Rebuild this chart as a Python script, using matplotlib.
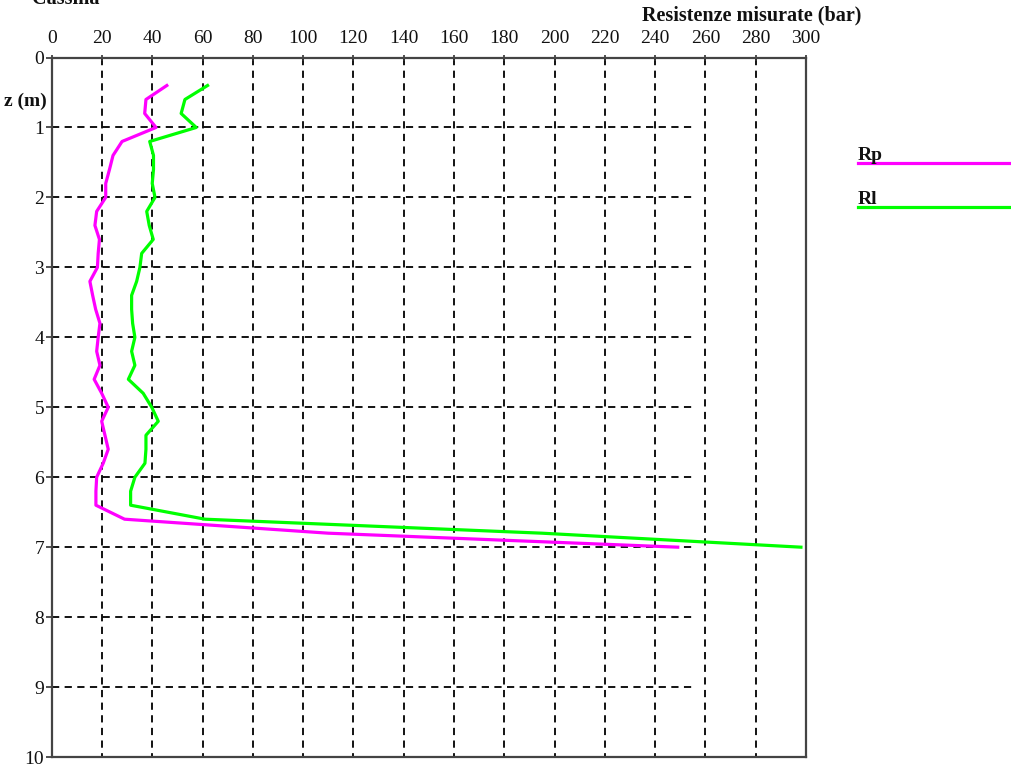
import matplotlib.pyplot as plt
from matplotlib.lines import Line2D

# depth (m) and measured resistances (bar)
depth = [0.4, 0.6, 0.8, 1.0, 1.2, 1.4, 1.6, 1.8, 2.0, 2.2, 2.4, 2.6, 2.8, 3.0,
         3.2, 3.4, 3.6, 3.8, 4.0, 4.2, 4.4, 4.6, 4.8, 5.0, 5.2, 5.4, 5.6, 5.8,
         6.0, 6.2, 6.4, 6.6, 6.8, 7.0]
rp = [45.8, 37.5, 37.0, 41.5, 28.0, 24.4, 23.0, 21.5, 21.5, 17.9, 17.2, 19.0,
      18.5, 18.2, 15.2, 16.3, 17.5, 19.2, 18.5, 17.9, 19.2, 16.9, 19.9, 22.5,
      19.9, 21.2, 22.5, 20.5, 17.9, 17.6, 17.6, 29.0, 110.0, 249.0]
rl = [62.0, 53.0, 51.5, 57.5, 39.0, 40.5, 40.5, 40.0, 41.1, 37.8, 38.8, 40.4,
      35.8, 35.1, 33.8, 31.8, 31.8, 32.2, 33.1, 31.8, 33.1, 30.5, 36.4, 39.8,
      42.4, 37.5, 37.5, 37.1, 33.1, 31.4, 31.4, 61.0, 195.0, 298.0]

x_ticks = list(range(0, 301, 20))
z_ticks = list(range(0, 11))

plt.rcParams['font.family'] = 'Liberation Serif'

fig = plt.figure(figsize=(10.11, 7.67), dpi=100)
ax = fig.add_axes([0.0511, 0.013, 0.7461, 0.912])

# grid: vertical lines full height, horizontal lines stop at ~255
for xv in x_ticks[1:-1]:
    ax.plot([xv, xv], [0, 10], color='black', lw=1.3, ls=(0, (4, 3)), zorder=1)
for zv in z_ticks[1:-1]:
    ax.plot([0, 255], [zv, zv], color='black', lw=1.3, ls=(0, (4, 3)), zorder=1)

ax.plot(rp, depth, color='#ff00ff', lw=2.3, zorder=3)
ax.plot(rl, depth, color='#00ff00', lw=2.3, zorder=3)

ax.set_xlim(0, 300)
ax.set_ylim(10, 0)
ax.set_xticks(x_ticks)
ax.set_yticks(z_ticks)
ax.xaxis.tick_top()
ax.tick_params(axis='x', direction='inout', length=5, width=1.2, pad=5,
               labelsize=14, colors='#333333', labelcolor='#111111')
ax.tick_params(axis='y', direction='out', length=4, width=1.2, pad=1.5,
               labelsize=14, colors='#333333', labelcolor='#111111')
for s in ax.spines.values():
    s.set_color('#444444')
    s.set_linewidth(1.6)

fig.text(752 / 1011, 1 - 20 / 767, 'Resistenze misurate (bar)', ha='center',
         va='baseline', fontsize=14.5, fontweight='bold', color='#111111')
fig.text(4 / 1011, 1 - 106 / 767, 'z (m)', ha='left', va='baseline',
         fontsize=14, fontweight='bold', color='#111111')
fig.text(32 / 1011, 1 - 4 / 767, 'Cassina -', ha='left', va='baseline',
         fontsize=14.5, fontweight='bold', color='#111111')

# legend drawn by hand at the right
fig.text(858 / 1011, 1 - 160 / 767, 'Rp', ha='left', va='baseline',
         fontsize=14, fontweight='bold', color='#111111')
fig.text(858 / 1011, 1 - 204 / 767, 'Rl', ha='left', va='baseline',
         fontsize=14, fontweight='bold', color='#111111')
fig.add_artist(Line2D([858 / 1011, 1.0], [1 - 163 / 767, 1 - 163 / 767],
                      color='#ff00ff', lw=2.3, transform=fig.transFigure))
fig.add_artist(Line2D([858 / 1011, 1.0], [1 - 207 / 767, 1 - 207 / 767],
                      color='#00ff00', lw=2.3, transform=fig.transFigure))

fig.savefig('out.png', dpi=100)
